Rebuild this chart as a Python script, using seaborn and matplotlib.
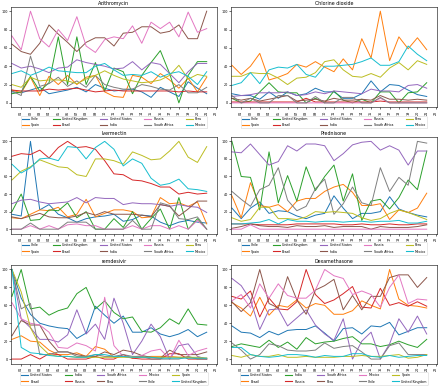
import numpy as np
import pandas as pd
import matplotlib
matplotlib.use("Agg")
import matplotlib.pyplot as plt
import seaborn as sns

periods = list(range(22))
tick_pos = list(range(1, 23))
tick_labels = [f"{i:02d}" for i in range(1, 23)]

order_a = ["Chile", "Spain", "United Kingdom", "Brazil", "United States",
           "India", "Russia", "South Africa", "Peru", "Mexico"]
order_b = ["United States", "Brazil", "India", "Russia", "South Africa",
           "Peru", "Mexico", "Chile", "Spain", "United Kingdom"]

azithromycin = {
    "Chile": [12, 11, 14, 17, 10, 12, 14, 17, 12, 20, 16, 13, 14, 15, 12, 6, 17, 12, 7, 23, 16, 10],
    "Spain": [14, 11, 28, 8, 29, 20, 30, 20, 28, 30, 12, 7, 6, 30, 28, 21, 32, 25, 16, 27, 12, 28],
    "United Kingdom": [10, 12, 29, 13, 22, 72, 20, 72, 20, 44, 13, 38, 34, 10, 30, 44, 57, 32, 0, 30, 45, 45],
    "Brazil": [14, 13, 13, 13, 15, 14, 15, 16, 14, 12, 13, 14, 13, 13, 13, 13, 13, 13, 12, 13, 12, 12],
    "United States": [43, 38, 40, 37, 33, 38, 39, 47, 44, 42, 40, 37, 38, 45, 36, 44, 42, 32, 22, 34, 43, 43],
    "India": [64, 56, 53, 65, 85, 75, 66, 56, 66, 71, 71, 62, 76, 77, 83, 83, 76, 78, 85, 70, 70, 100],
    "Russia": [73, 58, 100, 70, 61, 80, 68, 94, 62, 55, 69, 72, 70, 84, 65, 88, 81, 88, 72, 99, 77, 81],
    "South Africa": [13, 8, 51, 18, 21, 28, 18, 24, 17, 30, 20, 17, 15, 15, 20, 18, 15, 14, 20, 11, 11, 17],
    "Peru": [20, 17, 28, 24, 25, 25, 24, 21, 26, 30, 35, 30, 26, 24, 22, 23, 25, 30, 41, 26, 31, 29],
    "Mexico": [32, 35, 30, 34, 39, 35, 34, 33, 33, 40, 43, 36, 30, 31, 30, 34, 28, 32, 34, 29, 20, 34],
}

chlorine_dioxide = {
    "Chile": [10, 8, 8, 4, 12, 5, 12, 8, 10, 16, 12, 12, 5, 5, 10, 24, 12, 20, 19, 14, 9, 7],
    "Spain": [41, 31, 40, 54, 25, 28, 32, 42, 39, 45, 39, 34, 48, 36, 70, 49, 100, 46, 72, 59, 71, 58],
    "United Kingdom": [5, 0, 2, 12, 22, 12, 11, 11, 0, 5, 0, 13, 3, 0, 4, 0, 12, 12, 0, 11, 12, 22],
    "Brazil": [1, 1, 1, 1, 1, 1, 1, 1, 5, 1, 1, 1, 1, 1, 1, 1, 2, 1, 1, 1, 1, 1],
    "United States": [7, 8, 9, 11, 11, 11, 12, 8, 9, 12, 10, 13, 12, 11, 10, 15, 13, 13, 12, 19, 20, 16],
    "India": [5, 3, 5, 2, 4, 6, 8, 2, 3, 4, 2, 5, 3, 3, 4, 3, 8, 4, 4, 3, 4, 3],
    "Russia": [0, 0, 0, 0, 0, 0, 0, 0, 0, 0, 0, 0, 0, 0, 0, 0, 5, 0, 0, 0, 0, 0],
    "South Africa": [8, 0, 5, 0, 0, 8, 8, 0, 0, 7, 0, 0, 6, 6, 0, 0, 6, 0, 0, 0, 0, 0],
    "Peru": [29, 29, 33, 32, 32, 27, 20, 27, 28, 33, 45, 47, 36, 29, 28, 32, 28, 38, 44, 36, 46, 42],
    "Mexico": [19, 22, 33, 21, 36, 39, 38, 42, 31, 28, 40, 40, 41, 42, 45, 49, 41, 41, 45, 62, 53, 46],
}

ivermectin = {
    "Chile": [17, 15, 100, 22, 28, 17, 13, 8, 12, 14, 15, 17, 9, 11, 16, 15, 8, 4, 8, 10, 8, 7],
    "Spain": [13, 12, 17, 22, 21, 25, 14, 17, 34, 14, 18, 22, 22, 20, 13, 14, 36, 29, 30, 26, 31, 6],
    "United Kingdom": [20, 40, 10, 11, 22, 21, 30, 13, 20, 0, 0, 12, 2, 20, 0, 12, 23, 0, 36, 0, 12, 0],
    "Brazil": [83, 86, 85, 90, 81, 93, 100, 93, 94, 91, 78, 63, 62, 56, 55, 52, 48, 48, 40, 42, 40, 41],
    "United States": [29, 33, 34, 31, 29, 30, 31, 36, 30, 36, 35, 35, 28, 30, 29, 29, 28, 26, 28, 26, 25, 19],
    "India": [14, 12, 15, 18, 14, 13, 13, 15, 19, 16, 20, 17, 17, 17, 16, 14, 28, 26, 15, 23, 32, 32],
    "Russia": [0, 0, 4, 0, 4, 0, 5, 6, 4, 4, 0, 0, 0, 4, 0, 4, 4, 0, 4, 0, 10, 0],
    "South Africa": [0, 0, 7, 0, 0, 0, 8, 8, 8, 0, 0, 0, 0, 10, 0, 0, 30, 27, 12, 11, 14, 0],
    "Peru": [56, 66, 71, 79, 75, 71, 70, 62, 60, 80, 80, 78, 74, 88, 84, 79, 80, 89, 100, 82, 76, 94],
    "Mexico": [74, 64, 70, 80, 81, 78, 94, 93, 80, 93, 100, 91, 72, 80, 75, 58, 50, 52, 57, 46, 45, 43],
}

prednisone = {
    "Chile": [24, 12, 24, 31, 18, 21, 20, 15, 12, 16, 18, 38, 24, 12, 18, 18, 20, 37, 23, 19, 16, 14],
    "Spain": [38, 13, 53, 27, 25, 28, 20, 32, 35, 35, 43, 48, 51, 42, 27, 27, 29, 11, 22, 19, 24, 41],
    "United Kingdom": [100, 60, 59, 22, 88, 30, 61, 32, 71, 44, 60, 73, 32, 63, 10, 32, 34, 23, 36, 56, 45, 89],
    "Brazil": [6, 6, 6, 5, 5, 5, 5, 6, 6, 6, 6, 6, 5, 5, 6, 5, 5, 6, 5, 5, 6, 6],
    "United States": [88, 87, 97, 85, 73, 77, 95, 89, 97, 97, 95, 78, 86, 96, 99, 100, 90, 95, 90, 73, 89, 89],
    "India": [1, 3, 6, 4, 3, 3, 2, 4, 3, 3, 4, 2, 3, 3, 3, 0, 3, 2, 2, 2, 3, 5],
    "Russia": [0, 0, 5, 0, 0, 0, 0, 0, 0, 0, 0, 0, 0, 0, 0, 0, 0, 0, 0, 0, 0, 0],
    "South Africa": [43, 34, 26, 45, 50, 70, 33, 21, 26, 46, 57, 17, 29, 48, 30, 27, 70, 43, 59, 50, 100, 98],
    "Peru": [13, 9, 11, 25, 25, 12, 12, 11, 14, 20, 19, 20, 19, 18, 13, 10, 12, 18, 22, 19, 15, 11],
    "Mexico": [6, 6, 7, 8, 11, 6, 11, 9, 9, 8, 9, 9, 8, 9, 9, 8, 9, 9, 10, 7, 7, 9],
}

remdesivir = {
    "United States": [100, 68, 50, 40, 37, 35, 34, 23, 29, 59, 49, 40, 48, 30, 30, 35, 28, 25, 28, 33, 25, 30],
    "Brazil": [22, 26, 20, 19, 10, 5, 5, 7, 3, 14, 11, 2, 3, 1, 2, 3, 3, 3, 2, 2, 1, 1],
    "India": [70, 100, 56, 58, 49, 54, 57, 73, 80, 56, 65, 52, 45, 47, 31, 30, 35, 45, 39, 56, 39, 38],
    "Russia": [0, 0, 5, 0, 6, 5, 0, 0, 0, 3, 0, 0, 5, 1, 0, 0, 0, 6, 6, 0, 0, 0],
    "South Africa": [100, 45, 35, 22, 22, 19, 27, 55, 28, 39, 22, 68, 40, 5, 20, 39, 25, 0, 15, 17, 3, 0],
    "Peru": [26, 43, 38, 38, 20, 8, 8, 5, 3, 3, 8, 5, 10, 8, 4, 2, 1, 10, 5, 5, 5, 8],
    "Mexico": [63, 45, 40, 38, 30, 13, 12, 18, 15, 9, 69, 15, 3, 2, 4, 9, 11, 0, 21, 4, 9, 12],
    "Chile": [100, 56, 62, 5, 5, 8, 8, 3, 3, 5, 3, 3, 5, 3, 3, 0, 0, 0, 0, 3, 0, 0],
    "Spain": [100, 75, 35, 15, 5, 3, 3, 2, 2, 2, 2, 2, 2, 2, 2, 2, 2, 2, 2, 2, 2, 1],
    "United Kingdom": [100, 13, 7, 6, 4, 3, 3, 2, 2, 5, 5, 3, 3, 2, 2, 2, 1, 1, 1, 1, 1, 1],
}

dexamethasone = {
    "United States": [37, 30, 29, 24, 31, 27, 32, 33, 33, 37, 29, 20, 34, 35, 28, 37, 36, 41, 27, 31, 35, 35],
    "Brazil": [63, 57, 48, 69, 49, 60, 58, 66, 57, 62, 60, 50, 50, 54, 65, 60, 56, 100, 67, 60, 59, 57],
    "India": [14, 17, 15, 13, 21, 13, 19, 11, 24, 17, 19, 20, 23, 25, 17, 17, 14, 16, 20, 16, 13, 22],
    "Russia": [70, 67, 76, 47, 68, 56, 55, 64, 100, 72, 62, 66, 73, 81, 58, 57, 79, 60, 63, 59, 64, 59],
    "South Africa": [90, 82, 66, 33, 55, 56, 37, 46, 55, 38, 28, 21, 45, 0, 20, 30, 0, 17, 45, 30, 48, 28],
    "Peru": [64, 53, 63, 100, 62, 57, 92, 66, 50, 77, 82, 89, 55, 71, 55, 70, 70, 91, 94, 94, 80, 91],
    "Mexico": [65, 72, 57, 84, 68, 84, 71, 68, 68, 77, 100, 93, 90, 72, 76, 72, 58, 80, 94, 62, 67, 66],
    "Chile": [18, 10, 0, 5, 17, 15, 10, 9, 9, 10, 18, 12, 14, 15, 8, 0, 0, 15, 18, 5, 5, 5],
    "Spain": [4, 2, 5, 3, 3, 5, 2, 2, 3, 2, 2, 2, 3, 3, 4, 3, 3, 4, 5, 1, 2, 5],
    "United Kingdom": [13, 13, 5, 3, 2, 3, 5, 5, 4, 2, 4, 3, 3, 6, 6, 3, 2, 4, 2, 3, 4, 4],
}

panels = [
    ("Azithromycin", azithromycin, order_a),
    ("Chlorine dioxide", chlorine_dioxide, order_a),
    ("Ivermectin", ivermectin, order_a),
    ("Prednisone", prednisone, order_a),
    ("remdesivir", remdesivir, order_b),
    ("Dexamethasone", dexamethasone, order_b),
]

palette = sns.color_palette("tab10", 10)

fig = plt.figure(figsize=(4.4, 3.88), dpi=100)
lefts = [0.025, 0.525]
rows = [(0.723, 0.260), (0.398, 0.249), (0.063, 0.254)]
W = 0.468

for i, (title, data, order) in enumerate(panels):
    r, c = divmod(i, 2)
    b, h = rows[r]
    ax = fig.add_axes([lefts[c], b, W, h])
    df = pd.DataFrame([
        {"period": p, "value": v, "country": k}
        for k in order for p, v in zip(periods, data[k])
    ])
    sns.lineplot(data=df, x="period", y="value", hue="country", hue_order=order,
                 palette=palette, ax=ax, linewidth=0.7)
    ax.set_title(title, fontsize=3.4, pad=1.5)
    ax.set_xlabel("")
    ax.set_ylabel("")
    ax.set_xlim(-0.1, 22.1)
    ax.set_ylim(-5, 105)
    ax.set_xticks(tick_pos)
    ax.set_xticklabels(tick_labels, rotation=90)
    ax.set_yticks([0, 20, 40, 60, 80, 100])
    ax.tick_params(labelsize=2.4, length=1.5, width=0.4, pad=0.8)
    for s in ax.spines.values():
        s.set_linewidth(0.4)
    px_h = h * 388
    leg = ax.legend(ncol=5, loc="upper center", bbox_to_anchor=(0.5, -8.5 / px_h),
                    borderaxespad=0, fontsize=2.3, frameon=True, handlelength=2.2,
                    columnspacing=4.0, borderpad=0.3, labelspacing=0.8,
                    handletextpad=0.7)
    leg.get_frame().set_linewidth(0.4)
    for line in leg.get_lines():
        line.set_linewidth(0.8)

fig.savefig("out.png", dpi=100)
